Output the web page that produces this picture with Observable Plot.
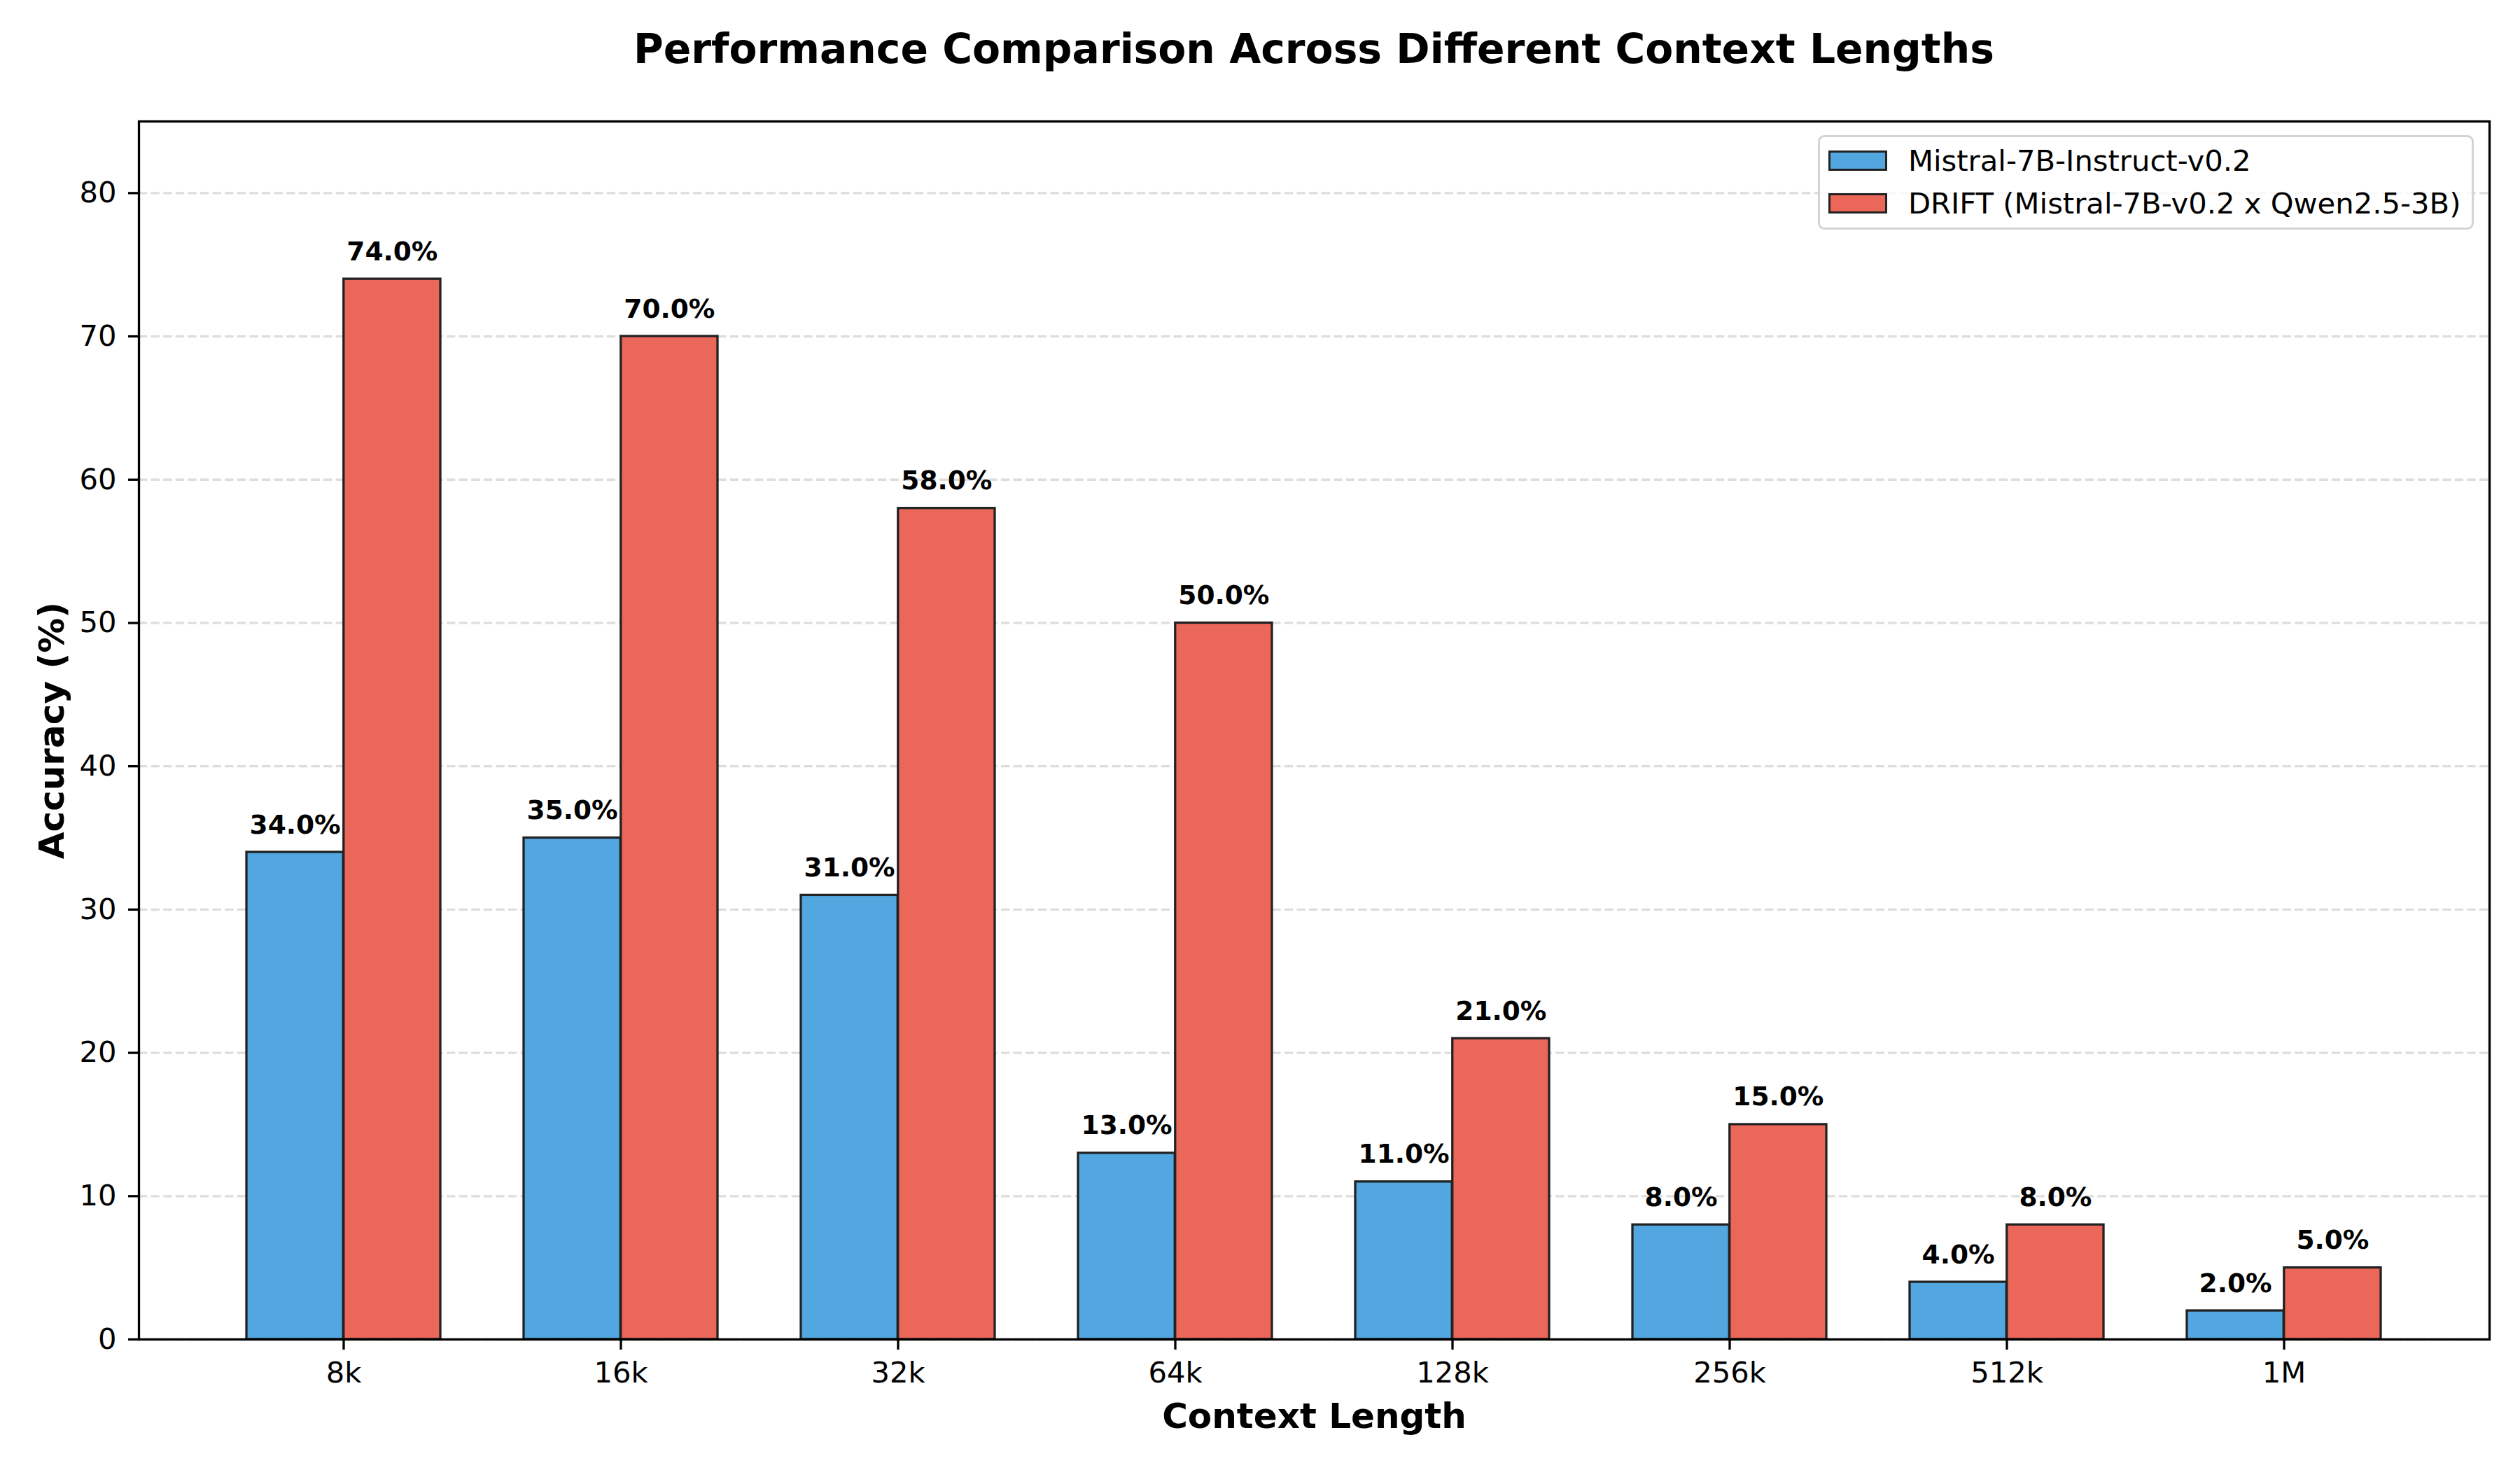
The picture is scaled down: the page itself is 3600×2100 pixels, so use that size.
<!DOCTYPE html>
<html>
<head>
<meta charset="utf-8">
<script src="https://cdn.jsdelivr.net/npm/d3@7"></script>
<script src="https://cdn.jsdelivr.net/npm/@observablehq/plot@0.6"></script>
<style>
  html, body { margin: 0; padding: 0; background: white; }
  #page { position: relative; width: 3600px; height: 2100px; background: white; font-family: "DejaVu Sans", sans-serif; overflow: hidden; }
  #header { position: relative; width: 3600px; height: 120px; }
  #title { position: absolute; left: 198px; width: 3358px; top: 40.7px; text-align: center; font-size: 58.3px; line-height: 1; font-weight: bold; color: black; white-space: nowrap; }
  #chart svg { display: block; }
  #legend { position: absolute; left: 2597px; top: 193px; width: 937px; height: 135px; box-sizing: border-box; border: 3.3px solid #d4d4d4; border-radius: 9px; background: rgba(255,255,255,0.8); }
  .row { position: absolute; left: 12px; height: 50px; display: flex; align-items: center; white-space: nowrap; font-size: 41.7px; color: black; }
  .sw { width: 84px; height: 29px; box-sizing: border-box; border: 3.3px solid #222; margin-right: 30px; }
</style>
</head>
<body>
<div id="page">
  <div id="header"><div id="title"></div></div>
  <div id="chart"></div>
  <div id="legend"></div>
</div>
<script>
const titleText = "Performance Comparison Across Different Context Lengths";
const xLabel = "Context Length";
const yLabel = "Accuracy (%)";
const contexts = ["8k", "16k", "32k", "64k", "128k", "256k", "512k", "1M"];
const models = ["Mistral-7B-Instruct-v0.2", "DRIFT (Mistral-7B-v0.2 x Qwen2.5-3B)"];
const mistral = [34, 35, 31, 13, 11, 8, 4, 2];
const drift = [74, 70, 58, 50, 21, 15, 8, 5];
const yTicks = [0, 10, 20, 30, 40, 50, 60, 70, 80];
const colors = ["#52a7e0", "#eb6759"];

const W = 3600, H = 1980;
const mL = 198, mR = 44, mT = 53, mB = 187;
const plotW = W - mL - mR;
const padInner = 0.3, padOuter = 0.385;
const step = plotW / (contexts.length - padInner + 2 * padOuter);
const barW = (1 - padInner) * step / 2;

const data = contexts.flatMap((c, i) => [
  {context: c, model: models[0], value: mistral[i]},
  {context: c, model: models[1], value: drift[i]}
]);
const dA = data.filter(d => d.model === models[0]);
const dB = data.filter(d => d.model === models[1]);

document.getElementById("title").textContent = titleText;

const barStyle = {stroke: "#222", strokeWidth: 3.3};
const labelStyle = {lineAnchor: "bottom", dy: -27, fontWeight: "bold", fontSize: 37.5, fill: "black"};

const chart = Plot.plot({
  width: W,
  height: H,
  marginLeft: mL,
  marginRight: mR,
  marginTop: mT,
  marginBottom: mB,
  style: {fontFamily: "DejaVu Sans", fontSize: "41.7px", color: "black", background: "white", overflow: "visible"},
  x: {domain: contexts, paddingInner: padInner, paddingOuter: padOuter, align: 0.5},
  y: {domain: [0, 85]},
  marks: [
    Plot.gridY(yTicks, {stroke: "#dddddd", strokeOpacity: 1, strokeWidth: 3.3, strokeDasharray: "12.3 5.3"}),
    Plot.barY(dA, {x: "context", y: "value", fill: colors[0], insetRight: barW, ...barStyle}),
    Plot.barY(dB, {x: "context", y: "value", fill: colors[1], insetLeft: barW, ...barStyle}),
    Plot.text(dA, {x: "context", y: "value", text: d => d.value.toFixed(1) + "%", dx: -barW / 2, ...labelStyle}),
    Plot.text(dB, {x: "context", y: "value", text: d => d.value.toFixed(1) + "%", dx: barW / 2, ...labelStyle}),
    Plot.axisX({tickSize: 15, tickPadding: 17, strokeWidth: 3.3, label: null, fontSize: 41.7}),
    Plot.axisY({ticks: yTicks, tickSize: 15, tickPadding: 17, strokeWidth: 3.3, label: null, fontSize: 41.7}),
    Plot.frame({stroke: "black", strokeWidth: 3.3}),
    Plot.text([yLabel], {frameAnchor: "left", dx: -124, rotate: -90, fontWeight: "bold", fontSize: 50, lineAnchor: "middle", textAnchor: "middle"}),
    Plot.text([xLabel], {frameAnchor: "bottom", dy: 110, fontWeight: "bold", fontSize: 50, lineAnchor: "middle", textAnchor: "middle"})
  ]
});
document.getElementById("chart").appendChild(chart);

const legend = document.getElementById("legend");
const rowCenters = [33, 94];
models.forEach((m, i) => {
  const row = document.createElement("div");
  row.className = "row";
  row.style.top = (rowCenters[i] - 25) + "px";
  const sw = document.createElement("div");
  sw.className = "sw";
  sw.style.background = colors[i];
  const t = document.createElement("span");
  t.textContent = m;
  row.appendChild(sw);
  row.appendChild(t);
  legend.appendChild(row);
});
</script>
</body>
</html>
